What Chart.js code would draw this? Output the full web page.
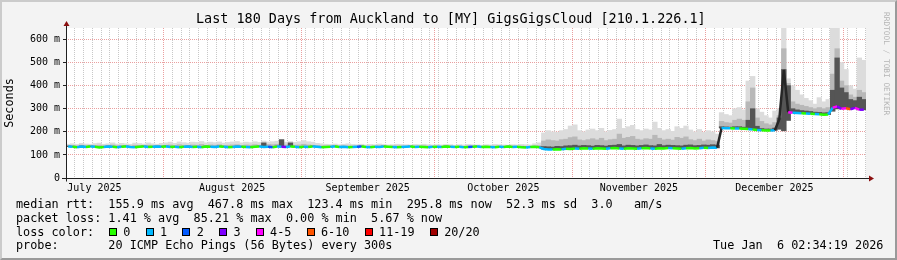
<!DOCTYPE html>
<html>
<head>
<meta charset="utf-8">
<script src="https://cdn.jsdelivr.net/npm/chart.js@4.4.1/dist/chart.umd.min.js"></script>
<style>
  html, body { margin: 0; padding: 0; background: #f3f3f3; }
  #page { position: relative; width: 897px; height: 260px; overflow: hidden; font-family: 'DejaVu Sans Mono', monospace; color: #000; }
  #edge { position: absolute; left: 0; top: 0; width: 897px; height: 260px; box-sizing: border-box;
          border-style: solid; border-width: 2px; border-color: #cbcbcb #9a9a9a #9a9a9a #cbcbcb; background: #f3f3f3; }
  #graph { position: absolute; left: 0; top: 0; }
  .txt { position: absolute; white-space: pre; font-size: 11.8px; line-height: 14px; }
  #title { position: absolute; left: 196px; top: 11px; white-space: pre; font-size: 13.45px; line-height: 16px; }
  #mark { position: absolute; left: 881px; top: 12px; writing-mode: vertical-rl; font-size: 7.8px; line-height: 10px; color: #b4b4b4; white-space: pre; }
  #lossRow { position: absolute; left: 109px; top: 224.5px; height: 14px; display: flex; align-items: center; font-size: 11.8px; white-space: pre; }
  .box { display: inline-block; width: 6px; height: 6px; border: 1px solid #000; margin-right: 6.3px; }
  .lbl { margin-right: 15.3px; }
</style>
</head>
<body>
<div id="page">
  <div id="edge"></div>
  <canvas id="graph" width="897" height="260"></canvas>
  <div id="title">Last 180 Days from Auckland to [MY] GigsGigsCloud [210.1.226.1]</div>
  <div id="mark">RRDTOOL / TOBI OETIKER</div>
  <div class="txt" style="left:16px; top:197px;">median rtt:  155.9 ms avg  467.8 ms max  123.4 ms min  295.8 ms now  52.3 ms sd  3.0   am/s</div>
  <div class="txt" style="left:16px; top:210.6px;">packet loss: 1.41 % avg  85.21 % max  0.00 % min  5.67 % now</div>
  <div class="txt" style="left:16px; top:224.5px;">loss color:</div>
  <div id="lossRow"></div>
  <div class="txt" style="left:16px; top:238px;">probe:       20 ICMP Echo Pings (56 Bytes) every 300s</div>
  <div class="txt" style="left:713px; top:238px;">Tue Jan  6 02:34:19 2026</div>
</div>
<script>
// one sample per day, last 180 days ending Tue Jan 6 02:34:19 2026
const DAY = 86400000;
const endTime = Date.UTC(2026, 0, 6, 2, 34, 19);
const startTime = endTime - 180 * DAY;

const monthLabels = ['July 2025', 'August 2025', 'September 2025', 'October 2025', 'November 2025', 'December 2025'];
const lossLabels = ['0', '1', '2', '3', '4-5', '6-10', '11-19', '20/20'];
const lossColors = ['#26ff00', '#00b8ff', '#0059ff', '#7e00ff', '#ff00ff', '#ff5500', '#ff0000', '#a00000'];

// median rtt (ms)
const medianRtt = [
  136,135,133,136,134,136,135,132,134,136,135,133,135,136,134,133,135,136,134,135,136,135,
  136,134,135,133,135,136,134,135,133,136,135,134,136,135,133,134,136,135,134,133,135,136,134,135,133,136,135,134,136,135,133,
  135,134,136,135,133,134,135,136,134,135,133,134,135,136,134,133,135,134,136,135,134,133,134,135,136,134,135,134,133,135,
  135,134,136,135,134,135,133,134,135,136,134,135,134,133,135,134,136,134,135,133,132,134,135,133,
  126,124,123,125,124,127,126,128,127,129,128,127,129,128,127,129,130,128,127,129,128,127,129,130,128,127,129,128,130,129,128,127,129,130,128,129,131,130,132,131,
  217,216,216,215,214,213,212,210,208,207,206,206,207,
  255,468,285,283,282,281,280,278,277,276,274,275,305,310,300,302,298,304,296,296
];

// loss class per sample (index into lossLabels)
const lossClass = [
  1,0,1,1,0,1,0,0,1,1,0,1,0,1,1,0,0,1,0,1,1,0,
  1,0,1,0,1,1,0,1,0,0,1,1,0,1,0,1,1,0,1,0,0,1,1,2,0,1,3,1,0,1,0,
  1,0,1,1,0,0,1,0,1,1,0,1,2,0,1,0,1,1,0,0,1,0,1,1,0,1,0,0,1,0,
  1,0,0,1,0,1,0,2,0,1,0,0,1,0,1,0,0,1,0,0,1,0,0,1,
  1,1,0,0,1,0,0,1,0,0,1,0,0,0,1,0,0,1,0,0,0,1,0,0,1,0,0,0,1,0,0,1,0,0,0,1,0,1,1,1,
  1,1,0,1,0,0,1,0,1,0,0,1,0,
  4,6,4,1,1,0,1,0,1,0,0,1,4,3,4,5,3,4,3,1
];

// smoke: lowest ping and upper edges of light / mid / dark bands (ms)
const smokeLow = [
  136,135,133,136,134,136,135,132,134,136,135,133,135,136,134,133,135,136,134,135,136,135,
  136,134,135,133,135,136,134,135,133,136,135,134,136,135,133,134,136,135,134,133,135,136,134,135,133,136,135,134,136,135,133,
  135,134,136,135,133,134,135,136,134,135,133,134,135,136,134,133,135,134,136,135,134,133,134,135,136,134,135,134,133,135,
  135,134,136,135,134,135,133,134,135,136,134,135,134,133,135,134,136,134,135,133,132,134,135,133,
  126,124,123,125,124,127,126,128,127,129,128,127,129,128,127,129,130,128,127,129,128,127,129,130,128,127,129,128,130,129,128,127,129,130,128,129,131,130,132,131,
  217,216,216,215,214,213,212,210,208,207,206,206,207,
  212,205,250,283,282,281,280,278,277,276,274,275,290,300,300,302,298,304,296,296
];
const smokeTop = [
  146,148,145,150,147,146,149,151,146,148,152,147,150,148,146,151,149,147,152,148,146,150,
  152,155,150,156,153,151,155,154,158,152,155,153,156,151,154,156,158,152,155,153,157,154,160,156,157,159,165,155,158,154,157,
  162,157,155,150,148,146,145,147,144,146,148,145,144,146,143,145,144,147,145,143,144,146,145,144,143,145,144,146,144,143,
  144,143,145,144,142,144,143,145,144,143,142,144,143,145,144,143,142,144,143,145,144,143,148,152,
  195,205,200,198,205,210,225,230,205,200,208,212,205,215,200,206,210,255,215,222,228,210,205,212,208,242,215,205,210,202,222,215,225,208,200,210,198,205,200,190,
  283,275,270,300,305,295,420,440,300,285,270,260,290,
  300,700,430,400,380,360,345,335,320,348,330,340,700,700,500,470,400,385,520,510
];
const smokeMid = [
  140,141,139,142,140,139,141,142,139,140,143,140,141,140,139,142,141,140,142,140,139,141,
  142,143,141,144,142,141,143,142,145,141,143,142,144,141,142,143,144,141,143,142,144,142,148,145,144,146,150,143,147,142,143,
  146,143,142,140,139,139,138,139,138,139,139,138,138,139,137,138,138,139,138,137,138,139,138,138,137,138,138,139,138,137,
  138,137,139,138,137,138,137,138,138,137,137,138,137,138,138,137,136,138,137,138,137,136,139,140,
  160,165,162,160,166,168,175,178,165,162,166,170,165,172,162,166,168,190,172,176,180,168,165,170,168,185,172,165,168,164,176,172,178,166,162,168,160,165,162,158,
  245,240,238,250,255,250,330,390,260,245,235,230,240,
  270,560,410,330,320,315,310,305,300,305,300,305,450,560,420,400,360,350,380,370
];
const smokeDark = [
  138,137,135,138,136,138,137,134,136,138,137,135,137,138,136,135,137,138,136,137,138,137,
  138,136,137,135,137,138,136,137,135,138,137,136,138,137,135,136,138,137,136,135,137,138,152,137,135,138,166,136,152,137,135,
  137,136,138,137,135,136,137,138,136,137,135,136,137,138,136,135,137,136,138,137,136,135,136,137,138,136,137,136,135,137,
  137,136,138,137,136,137,135,136,137,138,136,137,136,135,137,136,138,136,137,135,134,136,137,135,
  136,135,134,137,136,139,140,142,139,141,140,138,141,140,138,141,142,145,139,142,141,139,141,143,140,139,145,140,142,141,140,139,142,143,140,141,143,142,144,142,
  222,221,220,222,222,220,250,300,224,214,212,212,216,
  260,470,400,300,295,292,290,288,285,284,282,283,380,520,390,370,340,335,350,340
];

// legend boxes
const lossRow = document.getElementById('lossRow');
lossLabels.forEach(function (lbl, i) {
  const b = document.createElement('span');
  b.className = 'box';
  b.style.background = lossColors[i];
  const t = document.createElement('span');
  t.className = 'lbl';
  t.textContent = lbl;
  lossRow.appendChild(b);
  lossRow.appendChild(t);
});

// time axis: month starts get red grid, labels sit mid-month, grey grid every 2 days
const monthStarts = [6, 7, 8, 9, 10, 11, 12].map(function (m) { return Date.UTC(2025, m, 1); });
const majorX = monthStarts.filter(function (t) { return t > startTime && t < endTime; });
const labelAt = new Map();
monthLabels.forEach(function (name, i) {
  labelAt.set((monthStarts[i] + monthStarts[i + 1]) / 2, name);
});
const minorX = [];
let t0 = monthStarts[1] - Math.floor((monthStarts[1] - startTime) / (2 * DAY)) * 2 * DAY;
for (let t = t0; t <= endTime; t += 2 * DAY) {
  if (!majorX.includes(t)) minorX.push(t);
}
// a label tick that falls on a grid day keeps the grid line through gridAt
const gridAt = new Set(minorX.concat(majorX));
const xTicks = Array.from(new Set(minorX.concat(majorX, Array.from(labelAt.keys())))).sort(function (a, b) { return a - b; });

function sampleX(i) { return startTime + (i + 0.5) * DAY; }
function band(top) {
  return top.map(function (v, i) { return {x: sampleX(i), y: [smokeLow[i], v]}; });
}

const rrdFrame = {
  id: 'rrdFrame',
  beforeDraw(chart) {
    const {ctx, chartArea: a} = chart;
    ctx.save();
    ctx.fillStyle = '#ffffff';
    ctx.fillRect(a.left, a.top, a.right - a.left, a.bottom - a.top);
    ctx.restore();
  },
  afterDatasetsDraw(chart) {
    const {ctx, chartArea: a} = chart;
    const y0 = Math.round(chart.scales.y.getPixelForValue(0)) + 0.5;
    const x0 = Math.round(a.left) + 0.5;
    ctx.save();
    ctx.strokeStyle = '#202020';
    ctx.lineWidth = 1;
    ctx.beginPath();
    ctx.moveTo(a.left - 4, y0);
    ctx.lineTo(a.right + 4, y0);
    ctx.moveTo(x0, y0 + 3);
    ctx.lineTo(x0, a.top - 3);
    ctx.stroke();
    ctx.fillStyle = '#8b1010';
    ctx.beginPath();
    ctx.moveTo(a.right + 8, y0);
    ctx.lineTo(a.right + 3, y0 - 3);
    ctx.lineTo(a.right + 3, y0 + 3);
    ctx.closePath();
    ctx.fill();
    ctx.beginPath();
    ctx.moveTo(x0, a.top - 7);
    ctx.lineTo(x0 - 3, a.top - 2);
    ctx.lineTo(x0 + 3, a.top - 2);
    ctx.closePath();
    ctx.fill();
    ctx.restore();
  }
};

Chart.defaults.font.family = "'DejaVu Sans Mono', monospace";
Chart.defaults.color = '#000';

// one day is 800/180 px wide; tick spacing would otherwise shrink the bars
const smokeBar = { grouped: false, barThickness: 4.5, borderWidth: 0, inflateAmount: 0.4 };

const ctx = document.getElementById('graph').getContext('2d');
const rttChart = new Chart(ctx, {
  type: 'bar',
  data: {
    datasets: [
      {
        type: 'line',
        label: 'median rtt',
        data: medianRtt.map(function (v, i) { return {x: sampleX(i), y: v}; }),
        borderWidth: 2.5,
        borderColor: lossColors[0],
        pointRadius: 0,
        tension: 0,
        segment: {
          // steep jumps show up as dark smoke, not as a loss colour
          borderColor: function (c) {
            if (Math.abs(c.p1.parsed.y - c.p0.parsed.y) > 40) return '#262626';
            return lossColors[lossClass[c.p0DataIndex]];
          }
        },
        order: 0
      },
      Object.assign({ label: 'dark', data: band(smokeDark), backgroundColor: '#555555', order: 1 }, smokeBar),
      Object.assign({ label: 'mid', data: band(smokeMid), backgroundColor: '#b8b8b8', order: 2 }, smokeBar),
      Object.assign({ label: 'light', data: band(smokeTop), backgroundColor: '#dcdcdc', order: 3 }, smokeBar)
    ]
  },
  options: {
    responsive: false,
    animation: false,
    events: [],
    layout: { padding: { left: 0, right: 31, top: 28, bottom: 62 } },
    plugins: { legend: { display: false }, tooltip: { enabled: false }, title: { display: false } },
    scales: {
      x: {
        type: 'linear',
        min: startTime,
        max: endTime,
        offset: false,
        afterBuildTicks: function (scale) {
          scale.ticks = xTicks.map(function (v) { return {value: v}; });
        },
        afterFit: function (scale) { scale.height = 20; },
        ticks: {
          autoSkip: false,
          maxRotation: 0,
          minRotation: 0,
          padding: 4,
          font: { size: 10 },
          callback: function (v) { return labelAt.get(v) || ''; }
        },
        grid: {
          offset: false,
          drawTicks: false,
          lineWidth: 1,
          color: function (c) {
            const v = c.tick ? c.tick.value : null;
            if (majorX.includes(v)) return '#eaa0a0';
            if (gridAt.has(v)) return '#c8c8c8';
            return 'rgba(0,0,0,0)';
          }
        },
        border: { display: false, dash: [1, 1] }
      },
      y: {
        min: 0,
        max: 650,
        afterFit: function (scale) { scale.width = 66; },
        ticks: {
          stepSize: 50,
          padding: 3,
          font: { size: 10 },
          callback: function (v) {
            if (v % 100 !== 0) return '';
            return v === 0 ? '0' : v + ' m';
          }
        },
        grid: {
          drawTicks: true,
          tickLength: 3,
          tickColor: function (c) { return c.tick && c.tick.value % 100 === 0 ? '#202020' : 'rgba(0,0,0,0)'; },
          color: function (c) {
            const v = c.tick ? c.tick.value : 0;
            if (v === 0) return 'rgba(0,0,0,0)';
            return v % 100 === 0 ? '#eaa0a0' : '#c8c8c8';
          }
        },
        border: { display: false, dash: [1, 1] },
        title: {
          display: true,
          text: 'Seconds',
          padding: { top: 3, bottom: 0 },
          font: { size: 11.8 }
        }
      }
    }
  },
  plugins: [rrdFrame]
});
</script>
</body>
</html>
